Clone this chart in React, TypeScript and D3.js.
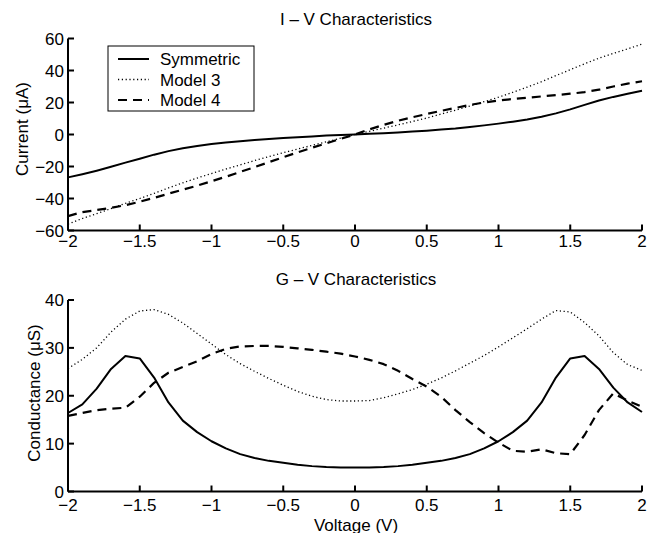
import React from "react";
import * as d3 from "d3";

const voltage = [
  -2.0, -1.9, -1.8, -1.7, -1.6, -1.5, -1.4, -1.3, -1.2, -1.1, -1.0, -0.9, -0.8, -0.7, -0.6, -0.5, -0.4, -0.3, -0.2, -0.1,
  0.0, 0.1, 0.2, 0.3, 0.4, 0.5, 0.6, 0.7, 0.8, 0.9, 1.0, 1.1, 1.2, 1.3, 1.4, 1.5, 1.6, 1.7, 1.8, 1.9, 2.0,
];

// I-V (µA)
const currentSymmetric = [
  -26.8, -24.8, -22.6, -20.2, -17.6, -15.2, -12.6, -10.4, -8.6, -7.2, -6.0, -5.0, -4.2, -3.5, -2.8, -2.2, -1.7, -1.2, -0.7, -0.3,
  0.0, 0.4, 0.8, 1.3, 1.8, 2.4, 3.1, 3.8, 4.7, 5.7, 6.8, 8.0, 9.4, 11.1, 13.2, 15.7, 18.5, 21.2, 23.5, 25.5, 27.3,
];
const currentModel3 = [
  -56.0, -52.5, -49.5, -46.3, -43.0, -40.0, -36.8, -33.4, -30.2, -27.2, -24.4, -21.6, -19.0, -16.3, -13.8, -11.4, -9.1, -6.8, -4.6, -2.3,
  0.0, 2.0, 4.0, 6.0, 8.1, 10.3, 12.8, 15.2, 17.8, 20.5, 23.3, 26.4, 29.6, 33.0, 36.8, 40.5, 44.2, 47.7, 50.7, 53.5, 56.5,
];
const currentModel4 = [
  -51.0, -48.5, -47.2, -45.8, -44.2, -42.0, -39.6, -37.0, -34.5, -32.0, -29.2, -26.4, -23.4, -20.4, -17.3, -14.2, -11.2, -8.3, -5.5, -2.7,
  0.0, 3.2, 6.0, 8.6, 10.8, 12.8, 14.8, 16.6, 18.5, 20.0, 21.2, 22.2, 23.0, 23.8, 24.6, 25.5, 26.5, 28.0, 30.0, 31.8, 33.3,
];

// G-V (µS)
const conductanceSymmetric = [
  16.4, 18.2, 21.5, 25.6, 28.3, 27.8, 23.8, 18.6, 14.8, 12.4, 10.5, 9.0, 7.8, 7.0, 6.4, 6.0, 5.6, 5.3, 5.1, 5.0,
  5.0, 5.0, 5.1, 5.3, 5.6, 6.0, 6.4, 7.0, 7.8, 9.0, 10.5, 12.4, 14.8, 18.6, 23.8, 27.8, 28.3, 25.6, 21.7, 18.6, 16.6,
];
const conductanceModel3 = [
  25.7, 27.6, 30.0, 33.3, 36.0, 37.7, 38.0, 37.0, 35.2, 33.0, 30.8, 28.6, 26.7, 25.1, 23.6, 22.2, 20.9, 19.9, 19.2, 18.9,
  18.9, 19.0, 19.6, 20.4, 21.3, 22.4, 23.7, 25.2, 26.8, 28.4, 30.2, 32.1, 34.0, 36.0, 37.8, 37.5, 35.3, 32.5, 29.0, 26.5, 25.3,
];
const conductanceModel4 = [
  15.8, 16.4, 17.0, 17.3, 17.5, 19.8, 22.7, 24.8, 26.0, 27.2, 28.7, 29.8, 30.3, 30.4, 30.4, 30.2, 29.9, 29.6, 29.2, 28.8,
  28.2, 27.5, 26.6, 25.2, 23.5, 21.9, 19.8, 17.0, 14.5, 12.2, 10.2, 8.5, 8.3, 8.8, 8.0, 7.8, 11.8, 17.0, 20.5, 19.0, 17.7,
];

const xTicks = [-2, -1.5, -1, -0.5, 0, 0.5, 1, 1.5, 2];
const yTicksTop = [-60, -40, -20, 0, 20, 40, 60];
const yTicksBottom = [0, 10, 20, 30, 40];
const seriesNames = ["Symmetric", "Model 3", "Model 4"];

const FONT = "'Liberation Sans', Arial, Helvetica, sans-serif";
const styles = [
  { dash: undefined, width: 2 },
  { dash: "1.2 2.6", width: 1.3 },
  { dash: "9 6", width: 2.2 },
];

const fmt = (v: number) => (v < 0 ? "\u2212" + String(Math.abs(v)) : String(v));

const x = d3.scaleLinear().domain([-2, 2]).range([68, 642]);
const yTop = d3.scaleLinear().domain([-60, 60]).range([230.5, 38.5]);
const yBot = d3.scaleLinear().domain([0, 40]).range([491.5, 300]);

function Axes({ y, yTicks, tickLabelY }: { y: d3.ScaleLinear<number, number>; yTicks: number[]; tickLabelY: number }) {
  const [y0, y1] = y.range();
  return (
    <g>
      <line x1={x(-2)} x2={x(2)} y1={y0} y2={y0} stroke="#000" strokeWidth={2} />
      <line x1={x(-2)} x2={x(-2)} y1={y0} y2={y1} stroke="#000" strokeWidth={2} />
      {xTicks.map((t) => (
        <g key={"x" + t}>
          <line x1={x(t)} x2={x(t)} y1={y0} y2={y0 - 6} stroke="#000" strokeWidth={2} />
          <text x={x(t)} y={tickLabelY} textAnchor="middle" fontSize={17} fontFamily={FONT}>
            {fmt(t)}
          </text>
        </g>
      ))}
      {yTicks.map((t) => (
        <g key={"y" + t}>
          <line x1={x(-2)} x2={x(-2) + 6} y1={y(t)} y2={y(t)} stroke="#000" strokeWidth={2} />
          <text x={x(-2) - 4} y={y(t)} dy="0.36em" textAnchor="end" fontSize={17} fontFamily={FONT}>
            {fmt(t)}
          </text>
        </g>
      ))}
    </g>
  );
}

function Curves({ y, series }: { y: d3.ScaleLinear<number, number>; series: number[][] }) {
  return (
    <g>
      {series.map((vals, i) => {
        const line = d3
          .line<number>()
          .x((_, j) => x(voltage[j]))
          .y((d) => y(d));
        return (
          <path
            key={i}
            d={line(vals) || ""}
            fill="none"
            stroke="#000"
            strokeWidth={styles[i].width}
            strokeDasharray={styles[i].dash}
            strokeLinejoin="round"
          />
        );
      })}
    </g>
  );
}

export default function App() {
  return (
    <svg
      width={660}
      height={533}
      style={{ position: "absolute", left: 0, top: 0, background: "#fff" }}
      fontFamily={FONT}
    >
      <rect x={0} y={0} width={660} height={533} fill="#fff" />
      {/* Top plot */}
      <text x={356} y={25} textAnchor="middle" fontSize={17}>
        I – V Characteristics
      </text>
      <Curves y={yTop} series={[currentSymmetric, currentModel3, currentModel4]} />
      <Axes y={yTop} yTicks={yTicksTop} tickLabelY={247} />
      <text transform="translate(28,129) rotate(-90)" textAnchor="middle" fontSize={17}>
        Current (μA)
      </text>
      {/* Legend */}
      <g>
        <rect x={108} y={46} width={146} height={65} fill="#fff" stroke="#000" strokeWidth={1} />
        {seriesNames.map((n, i) => (
          <g key={n}>
            <line
              x1={118}
              x2={149}
              y1={59 + i * 20.5}
              y2={59 + i * 20.5}
              stroke="#000"
              strokeWidth={styles[i].width}
              strokeDasharray={styles[i].dash}
            />
            <text x={160} y={59 + i * 20.5} dy="0.36em" fontSize={17}>
              {n}
            </text>
          </g>
        ))}
      </g>
      {/* Bottom plot */}
      <text x={356} y={285} textAnchor="middle" fontSize={17}>
        G – V Characteristics
      </text>
      <Curves y={yBot} series={[conductanceSymmetric, conductanceModel3, conductanceModel4]} />
      <Axes y={yBot} yTicks={yTicksBottom} tickLabelY={511} />
      <text transform="translate(40,393) rotate(-90)" textAnchor="middle" fontSize={17}>
        Conductance (μS)
      </text>
      <text x={356} y={531} textAnchor="middle" fontSize={17}>
        Voltage (V)
      </text>
    </svg>
  );
}
